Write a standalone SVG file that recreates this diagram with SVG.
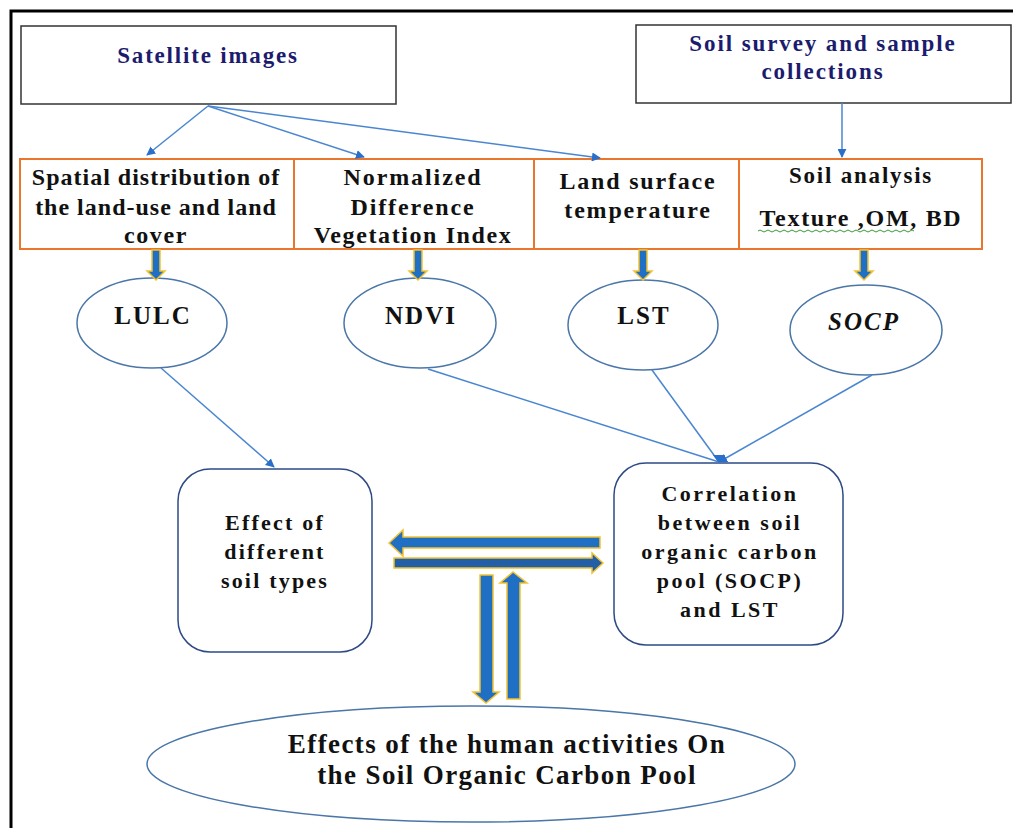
<svg xmlns="http://www.w3.org/2000/svg" width="1013" height="828" viewBox="0 0 1013 828">
<defs>
<style>
.t{font-family:"Liberation Serif","Times New Roman",serif;font-weight:bold;fill:#111;text-anchor:middle}
.nv{fill:#1c1c6e}
.bx{font-size:24px;letter-spacing:1.6px}
.el-t{font-size:25px;letter-spacing:2px}
.rt{font-size:22px;letter-spacing:2.2px}
.rb{fill:#fff;stroke:#333;stroke-width:1.5}
.ob{fill:#fff;stroke:#e8762c;stroke-width:2}
.el{fill:#fff;stroke:#4a76a8;stroke-width:1.5}
.rr{fill:#fff;stroke:#2d4a85;stroke-width:1.5}
.ln{stroke:#4a86d0;stroke-width:1.5;fill:none}
.ba{fill:#1f6fc5;stroke:#f2c230;stroke-width:1.5}
</style>
<marker id="ah" viewBox="0 0 10 10" refX="9" refY="5" markerWidth="9" markerHeight="9" markerUnits="userSpaceOnUse" orient="auto">
<path d="M0,0 L10,5 L0,10 z" fill="#2a6fc9"/>
</marker>
</defs>
<rect width="1013" height="828" fill="#fff"/>
<path d="M11,828 V11 H1013" fill="none" stroke="#000" stroke-width="3"/>

<g id="satellite">
<rect class="rb" x="21" y="26" width="375" height="78"/>
<text class="t nv" x="208" y="63" font-size="23" letter-spacing="1.8">Satellite images</text>
</g>
<g id="soilsurvey">
<rect class="rb" x="636" y="25" width="375" height="78"/>
<text class="t nv" x="823" y="51" font-size="23" letter-spacing="1.9">Soil survey and sample</text>
<text class="t nv" x="823" y="79" font-size="23" letter-spacing="1.9">collections</text>
</g>

<g id="box-spatial">
<rect class="ob" x="20" y="159" width="274" height="90"/>
<text class="t bx" x="156" y="185" style="letter-spacing:1px">Spatial distribution of</text>
<text class="t bx" x="156" y="215" style="letter-spacing:1px">the land-use and land</text>
<text class="t bx" x="156" y="243">cover</text>
</g>
<g id="box-ndvi">
<rect class="ob" x="294" y="159" width="240" height="90"/>
<text class="t bx" x="413" y="185" style="letter-spacing:1.9px">Normalized</text>
<text class="t bx" x="413" y="215" style="letter-spacing:1.9px">Difference</text>
<text class="t bx" x="413" y="243" style="letter-spacing:1.6px">Vegetation Index</text>
</g>
<g id="box-lst">
<rect class="ob" x="534" y="159" width="205" height="90"/>
<text class="t bx" x="638" y="189" style="letter-spacing:1.8px">Land surface</text>
<text class="t bx" x="638" y="218" style="letter-spacing:1.8px">temperature</text>
</g>
<g id="box-soil">
<rect class="ob" x="739" y="159" width="243" height="90"/>
<text class="t" x="861" y="183" font-size="23" letter-spacing="1.8">Soil analysis</text>
<text class="t" x="861" y="226" font-size="24" letter-spacing="1.7">Texture ,OM, BD</text>
<path d="M758,231 q2,-2 4,0 t4,0 t4,0 t4,0 t4,0 t4,0 t4,0 t4,0 t4,0 t4,0 t4,0 t4,0 t4,0 t4,0 t4,0 t4,0 t4,0 t4,0 t4,0 t4,0 t4,0 t4,0 t4,0 t4,0 t4,0 t4,0 t4,0 t4,0 t4,0 t4,0 t4,0 t4,0 t4,0 t4,0 t4,0 t4,0 t4,0 t4,0 t4,0" fill="none" stroke="#3a9a3a" stroke-width="1"/>
</g>

<g id="ell-lulc">
<ellipse class="el" cx="152" cy="323" rx="75" ry="45"/>
<text class="t el-t" x="153" y="324">LULC</text>
</g>
<g id="ell-ndvi">
<ellipse class="el" cx="420" cy="323" rx="76" ry="45"/>
<text class="t el-t" x="421" y="324">NDVI</text>
</g>
<g id="ell-lst">
<ellipse class="el" cx="643" cy="325" rx="75" ry="45"/>
<text class="t el-t" x="644" y="324">LST</text>
</g>
<g id="ell-socp">
<ellipse class="el" cx="866" cy="330" rx="76" ry="45"/>
<text class="t el-t" x="864" y="330" font-style="italic">SOCP</text>
</g>

<g id="effect-soil">
<rect class="rr" x="178" y="469" width="194" height="183" rx="32"/>
<text class="t rt" x="275" y="530">Effect of</text>
<text class="t rt" x="275" y="559">different</text>
<text class="t rt" x="275" y="588">soil types</text>
</g>
<g id="correlation">
<rect class="rr" x="614" y="463" width="229" height="182" rx="32"/>
<text class="t rt" x="730" y="501" style="letter-spacing:2.5px">Correlation</text>
<text class="t rt" x="730" y="530" style="letter-spacing:2.5px">between soil</text>
<text class="t rt" x="730" y="559" style="letter-spacing:2.5px">organic carbon</text>
<text class="t rt" x="730" y="588" style="letter-spacing:2.5px">pool (SOCP)</text>
<text class="t rt" x="730" y="617" style="letter-spacing:2.5px">and LST</text>
</g>
<g id="human">
<ellipse class="el" cx="471" cy="764" rx="324" ry="58"/>
<text class="t" x="507" y="753" font-size="27" letter-spacing="1.4">Effects of the human activities On</text>
<text class="t" x="507" y="784" font-size="27" letter-spacing="1.4">the Soil Organic Carbon Pool</text>
</g>

<g id="connectors">
<line class="ln" x1="208" y1="106" x2="147" y2="155" marker-end="url(#ah)"/>
<line class="ln" x1="208" y1="106" x2="364" y2="157" marker-end="url(#ah)"/>
<line class="ln" x1="208" y1="106" x2="600" y2="158" marker-end="url(#ah)"/>
<line class="ln" x1="842" y1="103" x2="842" y2="157" marker-end="url(#ah)"/>
<line class="ln" x1="161" y1="368" x2="274" y2="467" marker-end="url(#ah)"/>
<line class="ln" x1="428" y1="369" x2="719" y2="462"/>
<line class="ln" x1="652" y1="370" x2="719" y2="462"/>
<line class="ln" x1="872" y1="375" x2="719" y2="462" marker-end="url(#ah)"/>
<path d="M713,455 L719,463 L725,455 z" fill="#2a6fc9"/>
<polygon class="ba" points="152,250 160,250 160,271 165,271 156,280 147,271 152,271"/>
<polygon class="ba" points="414,250 422,250 422,271 427,271 418,280 409,271 414,271"/>
<polygon class="ba" points="639,250 647,250 647,271 652,271 643,280 634,271 639,271"/>
<polygon class="ba" points="860,250 868,250 868,271 873,271 864,280 855,271 860,271"/>
<polygon class="ba" points="389,543 403,530 403,537 600,537 600,548 403,548 403,556"/>
<polygon class="ba" style="fill:#225fa6" points="394,558 592,558 592,553 603,563 592,573 592,568 394,568"/>
<polygon class="ba" points="480,575 493,575 493,692 499,692 486,703 473,692 480,692"/>
<polygon class="ba" points="507,699 520,699 520,583 527,583 513,572 500,583 507,583"/>
</g>
</svg>
